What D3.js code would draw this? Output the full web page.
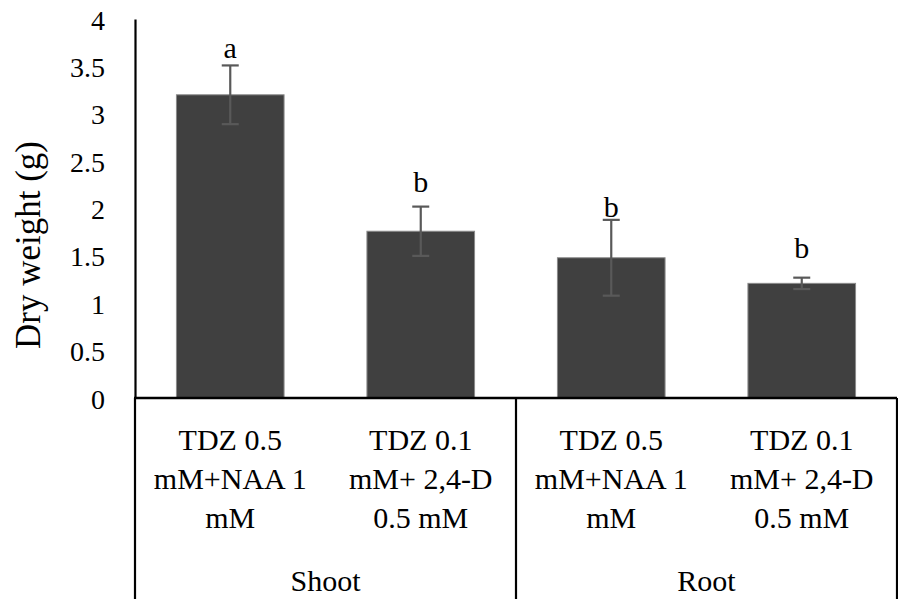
<!DOCTYPE html>
<html><head><meta charset="utf-8">
<script src="https://cdn.jsdelivr.net/npm/d3@7/dist/d3.min.js"></script>
<style>body{margin:0;background:#fff}svg{display:block}.serif{font-family:'Liberation Serif' !important}</style>
</head><body><svg id="c" width="898" height="599"></svg>
<script>
const categories = ["TDZ 0.5 mM+NAA 1 mM|Shoot", "TDZ 0.1 mM+ 2,4-D 0.5 mM|Shoot", "TDZ 0.5 mM+NAA 1 mM|Root", "TDZ 0.1 mM+ 2,4-D 0.5 mM|Root"];
const labelLines = [["TDZ 0.5","mM+NAA 1","mM"],["TDZ 0.1","mM+ 2,4-D","0.5 mM"],["TDZ 0.5","mM+NAA 1","mM"],["TDZ 0.1","mM+ 2,4-D","0.5 mM"]];
const groups = ["Shoot", "Root"];
const values = [3.2, 1.76, 1.48, 1.21];
const errors = [0.31, 0.26, 0.40, 0.06];
const letters = ["a", "b", "b", "b"];
const letterPos = [3.59, 2.17, 1.91, 1.48];
const yTicks = [0, 0.5, 1, 1.5, 2, 2.5, 3, 3.5, 4];
const yTickLabels = ["0","0.5","1","1.5","2","2.5","3","3.5","4"];

const svg = d3.select("#c");
const L = 135, R = 897, T = 19, B = 398;
const x = d3.scaleBand().domain(categories).range([L, R]).paddingInner(0.435).paddingOuter(0.2175);
const y = d3.scaleLinear().domain([0, 4]).range([B, T]);

svg.selectAll("rect.bar").data(values).join("rect")
  .attr("x", (d,i)=>x(categories[i])).attr("width", x.bandwidth())
  .attr("y", d=>y(d)).attr("height", d=>B - y(d))
  .attr("fill", "#404040").attr("stroke", "#8a8a8a").attr("stroke-width", 1);

const eb = svg.append("g").attr("stroke", "#595959").attr("stroke-width", 2.2);
values.forEach((v,i)=>{
  const cx = x(categories[i]) + x.bandwidth()/2;
  eb.append("line").attr("x1",cx).attr("x2",cx).attr("y1",y(v+errors[i])).attr("y2",y(v-errors[i]));
  [v+errors[i], v-errors[i]].forEach(e=>{
    eb.append("line").attr("x1",cx-8.5).attr("x2",cx+8.5).attr("y1",y(e)).attr("y2",y(e));
  });
});

svg.selectAll("text.let").data(letters).join("text")
  .attr("x",(d,i)=>x(categories[i]) + x.bandwidth()/2)
  .attr("y",(d,i)=>y(letterPos[i]))
  .attr("text-anchor","middle").attr("font-size", 30).attr("font-family", "Times New Roman").text(d=>d);

const yAxis = d3.axisLeft(y).tickValues(yTicks).tickSize(0).tickPadding(30)
  .tickFormat((d,i)=>yTickLabels[i]);
const ga = svg.append("g").attr("transform",`translate(${L},0)`).call(yAxis);
ga.attr("font-family", null).attr("font-size", null);
ga.select(".domain").attr("stroke","#000").attr("stroke-width",2.2);
ga.selectAll("text").attr("font-size",28).style("font-family", "'Liberation Serif', monospace").attr("fill","#000").attr("dy","0.36em");

svg.append("line").attr("x1",L-1).attr("x2",R).attr("y1",B).attr("y2",B).attr("stroke","#000").attr("stroke-width",2.5);
const dividers = [L, x(categories[2]) - x.step()*x.paddingInner()/2, R];
dividers.forEach(dx=>{
  svg.append("line").attr("x1",dx).attr("x2",dx).attr("y1",B).attr("y2",599).attr("stroke","#000").attr("stroke-width",2.2);
});

labelLines.forEach((lines,i)=>{
  const cx = x(categories[i]) + x.bandwidth()/2;
  lines.forEach((t,j)=>{
    svg.append("text").attr("x",cx).attr("y",439 + j*39).attr("dy","0.35em")
      .attr("text-anchor","middle").attr("font-size",30).attr("font-family", "Liberation Serif").text(t);
  });
});
groups.forEach((g,k)=>{
  const cx = (dividers[k] + dividers[k+1]) / 2;
  svg.append("text").attr("class","serif").attr("x",cx).attr("y",580).attr("dy","0.35em")
    .attr("text-anchor","middle").attr("font-size",30).text(g);
});

svg.append("text").attr("class","serif").attr("transform","translate(28,245) rotate(-90)")
  .attr("text-anchor","middle").attr("dy","0.35em").attr("font-size",35).text("Dry weight (g)");
</script></body></html>
